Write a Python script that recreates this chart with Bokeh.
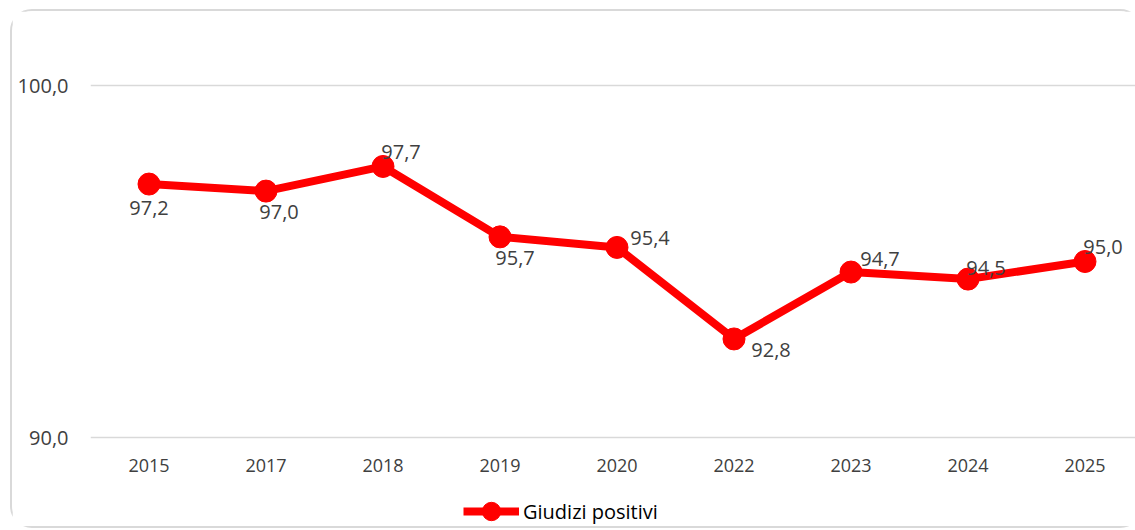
from bokeh.plotting import figure
from bokeh.models import (ColumnDataSource, FixedTicker, Legend, LegendItem, Range1d)
from bokeh.core.properties import value
from bokeh.embed import file_html
from bokeh.resources import INLINE

# ---- data ----
years = ["2015", "2017", "2018", "2019", "2020", "2022", "2023", "2024", "2025"]
giudizi_positivi = [97.2, 97.0, 97.7, 95.7, 95.4, 92.8, 94.7, 94.5, 95.0]
y_ticks = [90, 100]
series_name = "Giudizi positivi"

# ---- styles ----
label_dx = [0, 13, 18, 15, 33, 37, 29, 18, 18]
label_dy = [24, 21, -14, 21, -9, 11, -13, -11, -15]
FONT = "Open Sans"
RED = "#FF0000"
GREY_TXT = "#404040"

xs = list(range(len(years)))
labels = [f"{v:.1f}".replace(".", ",") for v in giudizi_positivi]
src = ColumnDataSource(dict(x=xs, y=giudizi_positivi, lab=labels, dx=label_dx, dy=label_dy))

# canvas sits at page (12, 11) inside a 2px rounded border
W, H = 1132, 519
left_b, top_b = 78, 9
frame_w = W - left_b
frame_h = H - top_b
px_per_cat = 117.0
px_per_unit = 35.2
y_top = 90 + 417 / px_per_unit

p = figure(width=W, height=H, output_backend="svg", toolbar_location=None,
           x_range=Range1d(-0.5, -0.5 + frame_w / px_per_cat),
           y_range=Range1d(y_top - frame_h / px_per_unit, y_top),
           min_border_left=left_b, min_border_right=0, min_border_top=top_b,
           min_border_bottom=0)
p.outline_line_color = None
p.background_fill_color = "white"
p.border_fill_color = "white"
p.styles = {"border": "2px solid #D9D9D9", "border-radius": "22px",
            "margin-left": "10px", "margin-top": "9px"}

# axes
p.xgrid.visible = False
p.ygrid.grid_line_color = "#D9D9D9"
p.ygrid.grid_line_width = 1.5
p.yaxis.ticker = FixedTicker(ticks=y_ticks)
p.yaxis.major_label_overrides = {t: f"{t:.1f}".replace(".", ",") for t in y_ticks}
p.xaxis.ticker = FixedTicker(ticks=xs)
p.xaxis.major_label_overrides = {i: y for i, y in enumerate(years)}
p.xaxis.fixed_location = min(y_ticks)
for ax in (p.xaxis, p.yaxis):
    ax.axis_line_color = None
    ax.major_tick_line_color = None
    ax.minor_tick_line_color = None
    ax.major_tick_in = 0
    ax.major_tick_out = 0
    ax.major_label_text_font = FONT
    ax.major_label_text_color = GREY_TXT
p.xaxis.major_label_text_font_size = "18px"
p.yaxis.major_label_text_font_size = "20px"
p.xaxis.major_label_standoff = 21
p.yaxis.major_label_standoff = 22

ln = p.line("x", "y", source=src, line_color=RED, line_width=8)
sc = p.scatter("x", "y", source=src, size=22, fill_color=RED, line_color=RED)

p.text("x", "y", text="lab", source=src, x_offset="dx", y_offset="dy",
       text_font=value(FONT), text_font_size="20px", text_color=GREY_TXT,
       text_align="center", text_baseline="middle")

legend = Legend(items=[LegendItem(label=series_name, renderers=[ln, sc])],
                location=(373, -4), orientation="horizontal",
                glyph_width=56, glyph_height=46, label_standoff=4, padding=0, margin=0,
                border_line_color=None, background_fill_alpha=0,
                label_text_font=FONT, label_text_font_size="20px", label_text_color="black")
p.add_layout(legend, "center")

open("out.html", "w").write(file_html(p, INLINE))
